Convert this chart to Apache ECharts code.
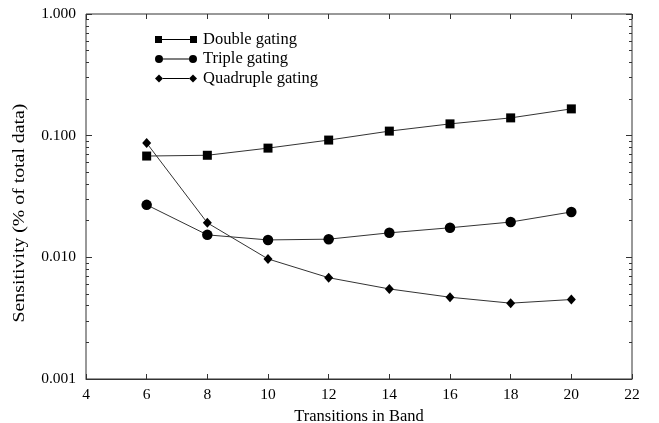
<!DOCTYPE html>
<html><head><meta charset="utf-8">
<script src="https://cdn.jsdelivr.net/npm/echarts@6/dist/echarts.min.js"></script>
<style>html,body{margin:0;padding:0;background:#fff}#c{width:659px;height:423px}</style>
</head><body><div id="c"></div>
<script>
var transitions = [6, 8, 10, 12, 14, 16, 18, 20];
var doubleGating = [0.068, 0.069, 0.079, 0.092, 0.109, 0.125, 0.140, 0.166];
var tripleGating = [0.027, 0.0153, 0.0139, 0.0141, 0.0159, 0.0175, 0.0195, 0.0236];
var quadrupleGating = [0.087, 0.0192, 0.0097, 0.0068, 0.0055, 0.0047, 0.0042, 0.0045];
var seriesNames = ['Double gating', 'Triple gating', 'Quadruple gating'];
var yMajor = [0.001, 0.01, 0.1, 1];
var yMinor = [0.002,0.003,0.004,0.005,0.006,0.007,0.008,0.009,0.02,0.03,0.04,0.05,0.06,0.07,0.08,0.09,0.2,0.3,0.4,0.5,0.6,0.7,0.8,0.9];
var yTitle = 'Sensitivity (% of total data)';
var xTitle = 'Transitions in Band';

var FONT = '"Liberation Serif", "DejaVu Serif", serif';
function pairs(ys){ return transitions.map(function(x,i){return [x, ys[i]];}); }

var iconSquare = 'path://M0,0.5H7V7.5H0Z M7,3.5H35V4.5H7Z M35,0.5H42V7.5H35Z';
var iconCircle = 'path://M0,4A4,4 0 1,1 8,4A4,4 0 1,1 0,4Z M8,3.5H34V4.5H8Z M34,4A4,4 0 1,1 42,4A4,4 0 1,1 34,4Z';
var iconDiamond = 'path://M0,4L4,0L8,4L4,8Z M8,3.5H34V4.5H8Z M34,4L38,0L42,4L38,8Z';

function yLog(extra){
  var base = {type:'log', logBase:10, min:0.001, max:1, splitLine:{show:false}, axisLine:{show:false}};
  for (var k in extra) base[k]=extra[k];
  return base;
}

var chart = echarts.init(document.getElementById('c'));
chart.setOption({
  animation:false,
  backgroundColor:'#fff',
  grid:{left:86, right:27, top:14, bottom:44, containLabel:false, outerBoundsMode:'none',
        show:true, borderColor:'#333', borderWidth:1},
  graphic:[
    {type:'text', x:20, y:213, rotation:Math.PI/2, scaleX:1.2, scaleY:1,
     style:{text:yTitle, font:'16.5px ' + FONT, fill:'#000', align:'center', verticalAlign:'middle'}}
  ],
  legend:{
    left:150, top:26, orient:'vertical', itemGap:2.5, itemWidth:42, itemHeight:8,
    textStyle:{fontFamily:FONT, fontSize:16.5, color:'#000', padding:[0,0,0,1]},
    data:[
      {name:seriesNames[0], icon:iconSquare},
      {name:seriesNames[1], icon:iconCircle},
      {name:seriesNames[2], icon:iconDiamond}
    ]
  },
  xAxis:[
    {type:'value', min:4, max:22, interval:2, position:'bottom',
     name:xTitle, nameLocation:'middle', nameGap:24,
     nameTextStyle:{fontFamily:FONT, fontSize:16.5, color:'#000'},
     axisLine:{show:true, lineStyle:{color:'#333'}},
     axisTick:{inside:true, length:5, lineStyle:{color:'#333'}},
     axisLabel:{fontFamily:FONT, fontSize:15.5, color:'#000', margin:8},
     splitLine:{show:false}},
    {type:'value', min:4, max:22, interval:2, position:'top',
     axisLine:{show:false}, axisTick:{inside:true, length:5, lineStyle:{color:'#333'}},
     axisLabel:{show:false}, splitLine:{show:false}}
  ],
  yAxis:[
    yLog({position:'left',
      axisTick:{inside:true, length:6, customValues:yMajor, lineStyle:{color:'#333'}},
      axisLabel:{fontFamily:FONT, fontSize:15.5, color:'#000', margin:10, customValues:yMajor,
        formatter:function(v){return Number(v).toFixed(3);}}}),
    yLog({position:'left', axisTick:{inside:true, length:3, customValues:yMinor, lineStyle:{color:'#333'}},
      axisLabel:{show:false}}),
    yLog({position:'right', axisTick:{inside:true, length:6, customValues:yMajor, lineStyle:{color:'#333'}},
      axisLabel:{show:false}}),
    yLog({position:'right', axisTick:{inside:true, length:3, customValues:yMinor, lineStyle:{color:'#333'}},
      axisLabel:{show:false}})
  ],
  series:[
    {name:seriesNames[0], type:'line', data:pairs(doubleGating), symbol:'rect', symbolSize:9,
     itemStyle:{color:'#000'}, lineStyle:{color:'#333', width:1}},
    {name:seriesNames[1], type:'line', data:pairs(tripleGating), symbol:'circle', symbolSize:10.5,
     itemStyle:{color:'#000'}, lineStyle:{color:'#333', width:1}},
    {name:seriesNames[2], type:'line', data:pairs(quadrupleGating), symbol:'diamond', symbolSize:[9,10],
     itemStyle:{color:'#000'}, lineStyle:{color:'#333', width:1}}
  ]
});
</script></body></html>
